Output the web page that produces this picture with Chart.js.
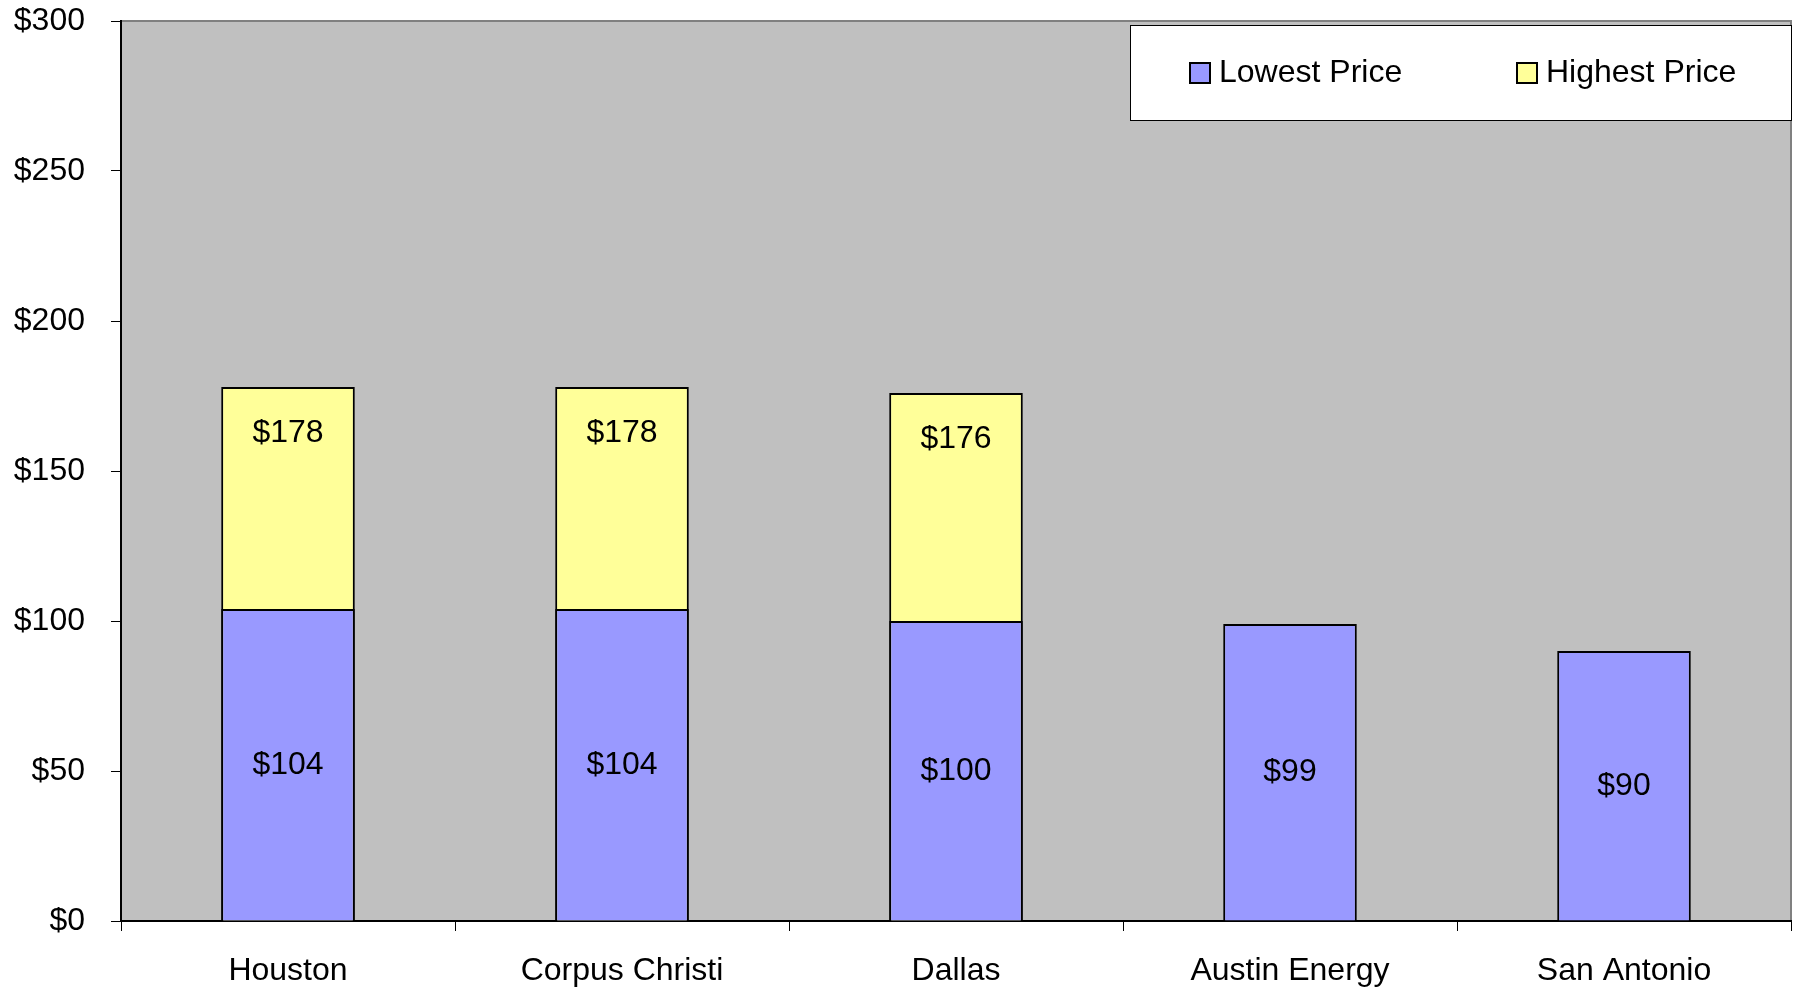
<!DOCTYPE html>
<html>
<head>
<meta charset="utf-8">
<script src="https://cdn.jsdelivr.net/npm/chart.js@4/dist/chart.umd.min.js"></script>
<style>
  body { margin: 0; background: #fff; }
  #wrap { width: 1799px; height: 988px; position: relative; }
</style>
</head>
<body>
<div id="wrap"><canvas id="price_chart"></canvas></div>
<script>
var cities = ["Houston", "Corpus Christi", "Dallas", "Austin Energy", "San Antonio"];
var lowestPrice = [104, 104, 100, 99, 90];
var highestPrice = [178, 178, 176, null, null];
var yTicks = [0, 50, 100, 150, 200, 250, 300];

var FONT = 'Arial, "Liberation Sans", sans-serif';

// grey plot area with thin border
var plotBg = {
  id: 'plotBg',
  beforeDraw: function(chart) {
    var a = chart.chartArea, c = chart.ctx;
    c.save();
    c.fillStyle = '#C0C0C0';
    c.fillRect(a.left, a.top, a.right - a.left, a.bottom - a.top);
    c.strokeStyle = '#808080';
    c.lineWidth = 2;
    c.strokeRect(a.left, a.top, a.right - a.left, a.bottom - a.top);
    c.restore();
  }
};

// value labels + boxed legend inside the plot
var labelsAndLegend = {
  id: 'labelsAndLegend',
  afterDatasetsDraw: function(chart) {
    var c = chart.ctx, a = chart.chartArea;
    c.save();
    c.font = '32px ' + FONT;
    c.fillStyle = '#000';
    c.textAlign = 'center';
    c.textBaseline = 'middle';
    chart.getDatasetMeta(0).data.forEach(function(bar, i) {
      if (lowestPrice[i] == null) return;
      c.fillText('$' + lowestPrice[i], bar.x, (bar.y + bar.base) / 2);
    });
    chart.getDatasetMeta(1).data.forEach(function(bar, i) {
      if (highestPrice[i] == null) return;
      c.fillText('$' + highestPrice[i], bar.x, bar.y + 46);
    });

    // legend box
    var bx = a.right - 661, by = a.top + 4, bw = 661, bh = 95;
    c.fillStyle = '#fff';
    c.fillRect(bx, by, bw, bh);
    c.strokeStyle = '#000';
    c.lineWidth = 1;
    c.strokeRect(bx + 0.5, by + 0.5, bw, bh);
    var items = chart.data.datasets;
    var xs = [bx + 60, bx + 387];
    c.textAlign = 'left';
    items.forEach(function(ds, i) {
      var x = xs[i], y = by + 48;
      c.fillStyle = ds.backgroundColor;
      c.fillRect(x, y - 10, 20, 20);
      c.strokeStyle = '#000';
      c.lineWidth = 2;
      c.strokeRect(x, y - 10, 20, 20);
      c.fillStyle = '#000';
      c.fillText(ds.label, x + 29, y);
    });
    c.restore();
  }
};

var ctx = document.getElementById("price_chart").getContext('2d');
var price_chart = new Chart(ctx, {
  type: 'bar',
  data: {
    labels: cities,
    datasets: [{
      label: "Lowest Price",
      data: lowestPrice,
      backgroundColor: "#9999FF",
      borderColor: "#000",
      borderWidth: 2,
      categoryPercentage: 1,
      barPercentage: 0.4
    }, {
      label: "Highest Price",
      data: highestPrice,
      backgroundColor: "#FFFF99",
      borderColor: "#000",
      borderWidth: 2,
      categoryPercentage: 1,
      barPercentage: 0.4
    }]
  },
  options: {
    responsive: true,
    maintainAspectRatio: false,
    animation: false,
    layout: { padding: { top: 0, right: 8, left: 0, bottom: 0 } },
    plugins: {
      legend: { display: false },
      tooltip: { enabled: false }
    },
    scales: {
      x: {
        stacked: true,
        offset: true,
        afterFit: function(s) { s.height = 67; },
        grid: { offset: true, drawOnChartArea: false, drawTicks: true, tickLength: 10, color: '#000', lineWidth: 1 },
        border: { display: true, color: '#000', width: 2 },
        ticks: { color: '#000', padding: 21, font: { family: FONT, size: 32 }, maxRotation: 0 }
      },
      y: {
        stacked: false,
        min: 0,
        max: 300,
        afterFit: function(s) { s.width = 121; s.paddingTop = 21; s.paddingBottom = 0; },
        afterBuildTicks: function(s) { s.ticks = yTicks.map(function(v) { return { value: v }; }); },
        grid: { drawOnChartArea: false, drawTicks: true, tickLength: 10, color: '#000', lineWidth: 1 },
        border: { display: true, color: '#000', width: 2 },
        ticks: {
          color: '#000',
          padding: 26,
          font: { family: FONT, size: 32 },
          callback: function(v) { return '$' + v; }
        }
      }
    }
  },
  plugins: [plotBg, labelsAndLegend]
});
</script>
</body>
</html>
